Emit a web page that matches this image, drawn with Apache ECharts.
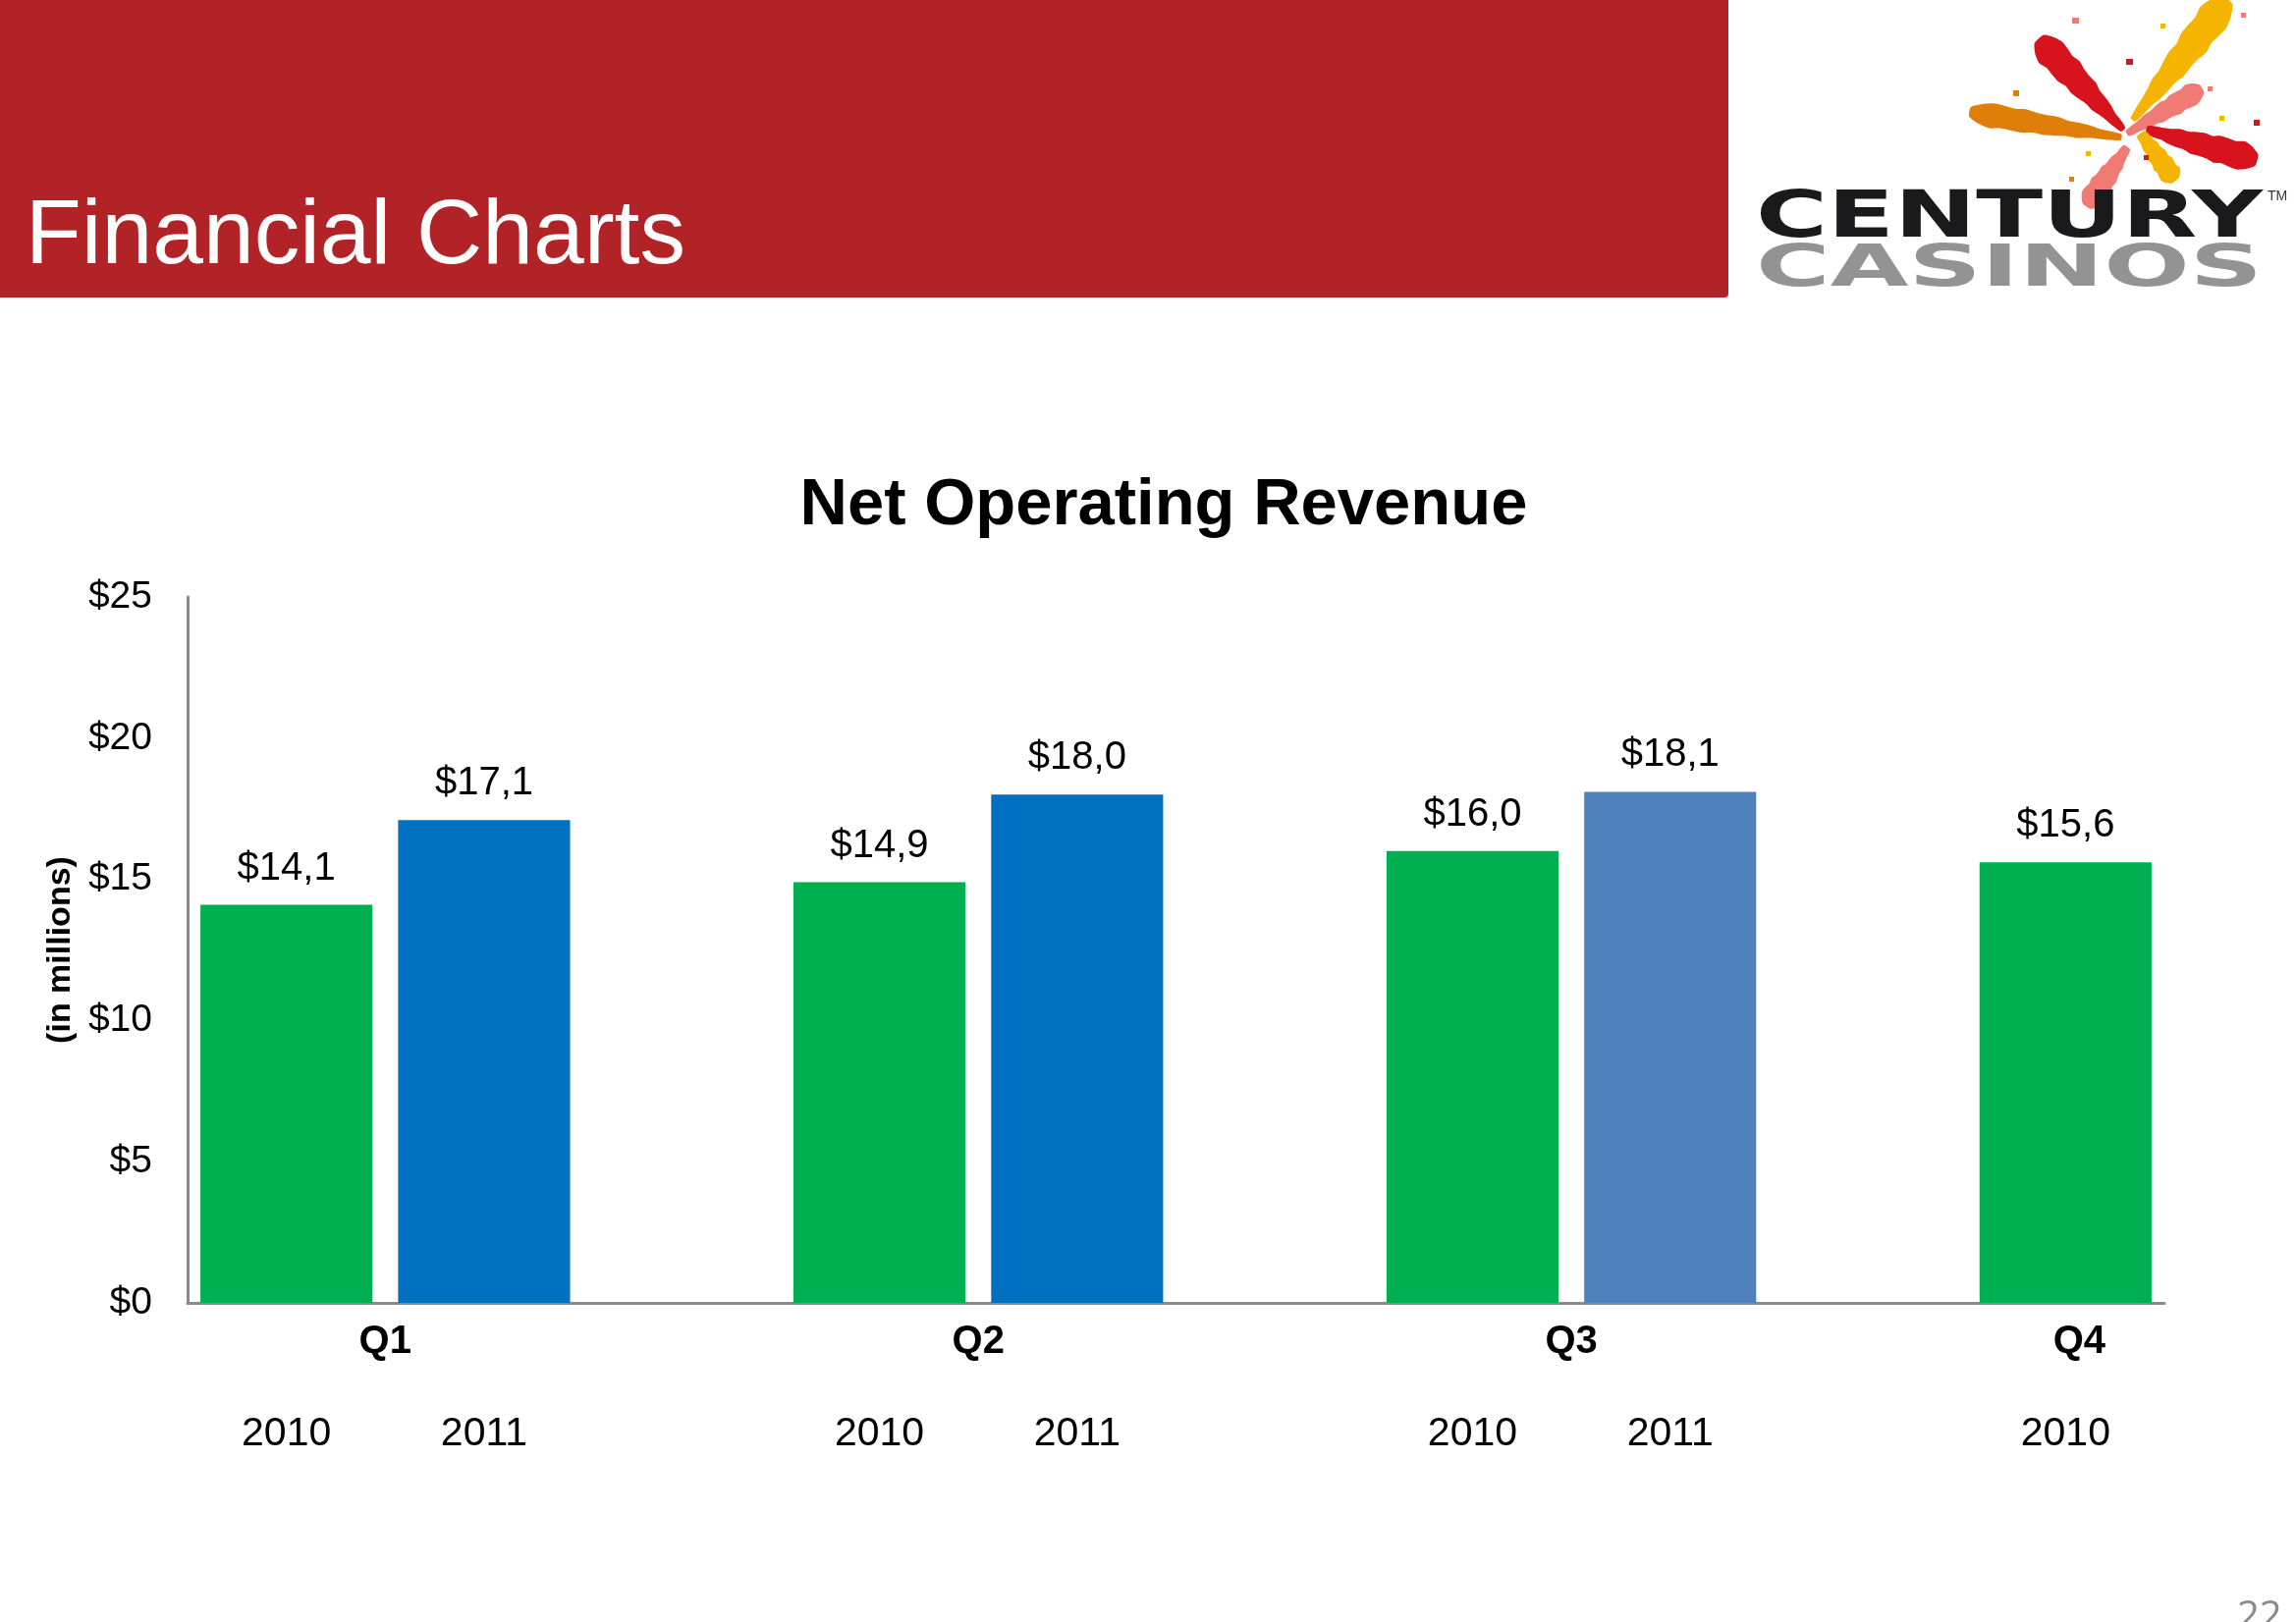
<!DOCTYPE html>
<html>
<head>
<meta charset="utf-8">
<script src="https://cdn.jsdelivr.net/npm/echarts@6/dist/echarts.min.js"></script>
<style>
html,body{margin:0;padding:0;background:#fff;}
#chart{width:2338px;height:1652px;}
</style>
</head>
<body>
<div id="chart"></div>
<script>
// ---- data ----
var quarters = ['Q1', 'Q2', 'Q3', 'Q4'];
var years = ['2010', '2011'];
var rev2010 = [14.1, 14.9, 16.0, 15.6];
var rev2011 = [17.1, 18.0, 18.1, null];
var yTicks = [0, 5, 10, 15, 20, 25];

// ---- styles ----
var color2010 = ['#00B050', '#00B050', '#00B050', '#00B050'];
var color2011 = ['#0070C0', '#0070C0', '#4F81BD', '#0070C0'];
var FONT = "'Liberation Sans', Arial, sans-serif";

// build category slots (bar, bar, gap, ...)
var slotLabels = [], slotData = [], qSlots = [];
quarters.forEach(function (q, i) {
  var s = [];
  s.push(slotLabels.length);
  slotLabels.push(years[0]);
  slotData.push({ value: rev2010[i], itemStyle: { color: color2010[i] } });
  if (rev2011[i] != null) {
    s.push(slotLabels.length);
    slotLabels.push(years[1]);
    slotData.push({ value: rev2011[i], itemStyle: { color: color2011[i] } });
  }
  qSlots.push(s);
  if (i < quarters.length - 1) {
    slotLabels.push('');
    slotData.push('-');
  }
});
// quarter labels on a half-slot point axis
var nPts = slotLabels.length * 2 + 1;
var qAxis = [];
for (var k = 0; k < nPts; k++) qAxis.push('');
qSlots.forEach(function (s, i) {
  var sum = 0;
  s.forEach(function (idx) { sum += 2 * idx + 1; });
  qAxis[Math.round(sum / s.length)] = quarters[i];
});

function fmt(v) { return '$' + v.toFixed(1).replace('.', ','); }

// ---- logo helpers (decoration) ----
var mctx = document.createElement('canvas').getContext('2d');
function textW(t, font) { mctx.font = font; return mctx.measureText(t).width; }
function stroke(ax, ay, bx, by, w0, w1, color) {
  var dx = bx - ax, dy = by - ay, L = Math.sqrt(dx * dx + dy * dy);
  var nx = -dy / L, ny = dx / L;
  var pts = [];
  var steps = 14;
  function wid(t, j) {
    var base = w0 + (w1 - w0) * Math.sin(Math.min(t / 0.85, 1) * Math.PI / 2);
    if (t > 0.85) base *= Math.sqrt(Math.max(0, 1 - Math.pow((t - 0.85) / 0.15, 2))) * 0.6 + 0.4;
    return base / 2 * (1 + 0.08 * Math.sin(j * 2.3));
  }
  for (var i = 0; i <= steps; i++) {
    var t = i / steps, w = wid(t, i);
    pts.push([ax + dx * t + nx * w, ay + dy * t + ny * w]);
  }
  for (var j = steps; j >= 0; j--) {
    var t2 = j / steps, w2 = wid(t2, j + 5);
    pts.push([ax + dx * t2 - nx * w2, ay + dy * t2 - ny * w2]);
  }
  return { type: 'polygon', shape: { points: pts, smooth: 0.2 }, style: { fill: color } };
}

var logoFont1 = "bold 66px 'DejaVu Sans', sans-serif";
var logoFont2 = "bold 58px 'DejaVu Sans', sans-serif";
var sx1 = 516 / textW('CENTURY', logoFont1);
var sx2 = 516 / textW('CASINOS', logoFont2);

var RED = '#D7141E', YEL = '#F4B400', ORA = '#E07E0A', PINK = '#EF7B74';
var logo = [
  stroke(2162, 132, 2076, 40, 6, 30, RED),
  stroke(2172, 122, 2268, 0, 6, 32, YEL),
  stroke(2160, 140, 2006, 114, 6, 24, ORA),
  stroke(2166, 136, 2242, 90, 6, 22, PINK),
  stroke(2186, 132, 2298, 163, 8, 28, RED),
  stroke(2180, 136, 2215, 184, 10, 22, YEL),
  stroke(2166, 150, 2125, 210, 8, 24, PINK),
  { type: 'rect', shape: { x: 2110, y: 18, width: 7, height: 6 }, style: { fill: PINK } },
  { type: 'rect', shape: { x: 2165, y: 60, width: 7, height: 6 }, style: { fill: RED } },
  { type: 'rect', shape: { x: 2050, y: 92, width: 6, height: 6 }, style: { fill: ORA } },
  { type: 'rect', shape: { x: 2282, y: 13, width: 5, height: 5 }, style: { fill: PINK } },
  { type: 'rect', shape: { x: 2200, y: 24, width: 5, height: 5 }, style: { fill: YEL } },
  { type: 'rect', shape: { x: 2248, y: 88, width: 5, height: 5 }, style: { fill: PINK } },
  { type: 'rect', shape: { x: 2260, y: 118, width: 5, height: 5 }, style: { fill: YEL } },
  { type: 'rect', shape: { x: 2295, y: 122, width: 6, height: 6 }, style: { fill: RED } },
  { type: 'rect', shape: { x: 2124, y: 154, width: 5, height: 5 }, style: { fill: YEL } },
  { type: 'rect', shape: { x: 2183, y: 158, width: 5, height: 5 }, style: { fill: RED } },
  { type: 'rect', shape: { x: 2107, y: 180, width: 5, height: 5 }, style: { fill: ORA } },
  { type: 'text', x: 1788, y: 224, scaleX: sx1, style: { text: 'CENTURY', font: logoFont1, fill: '#1a1a1d', textVerticalAlign: 'middle' } },
  { type: 'text', x: 1788, y: 276, scaleX: sx2, style: { text: 'CASINOS', font: logoFont2, fill: '#939393', textVerticalAlign: 'middle' } },
  { type: 'text', x: 2309, y: 200, style: { text: 'TM', font: "14px 'Liberation Sans', Arial", fill: '#333', textVerticalAlign: 'middle' } }
];

var chart = echarts.init(document.getElementById('chart'), null, { renderer: 'canvas' });
chart.setOption({
  backgroundColor: '#ffffff',
  animation: false,
  textStyle: { fontFamily: FONT },
  graphic: [
    { type: 'rect', shape: { x: 0, y: 0, width: 1760, height: 303, r: [0, 0, 4, 0] }, style: { fill: '#B22327' } },
    { type: 'text', x: 26, y: 242, style: { text: 'Financial Charts', font: "93px 'Liberation Sans', Arial, sans-serif", fill: '#ffffff', textVerticalAlign: 'middle' } },
    { type: 'text', x: 1185, y: 516, style: { text: 'Net Operating Revenue', font: "bold 67px 'Liberation Sans', Arial, sans-serif", fill: '#000000', textAlign: 'center', textVerticalAlign: 'middle' } },
    { type: 'text', x: 2278, y: 1628, style: { text: '22', font: "40px 'Open Sans', sans-serif", fill: '#8a8a8a' } }
  ].concat(logo),
  grid: { left: 191, right: 134, top: 608, bottom: 325, containLabel: false },
  xAxis: [
    {
      type: 'category',
      data: slotLabels,
      axisLine: { show: true, lineStyle: { color: '#8a8a8a', width: 3 } },
      axisTick: { show: false },
      axisLabel: { interval: 0, margin: 113, fontSize: 41, color: '#000', fontFamily: FONT },
      splitLine: { show: false }
    },
    {
      type: 'category',
      position: 'bottom',
      boundaryGap: false,
      data: qAxis,
      axisLine: { show: false },
      axisTick: { show: false },
      axisLabel: {
        interval: 0, margin: 20, fontSize: 40, fontWeight: 'bold', color: '#000', fontFamily: FONT,
        formatter: function (v) { return v === 'Q4' ? '{q4|' + v + '}' : v; },
        rich: { q4: { fontSize: 40, fontWeight: 'bold', fontFamily: FONT, color: '#000', padding: [0, 0, 0, 28] } }
      },
      splitLine: { show: false }
    }
  ],
  yAxis: {
    type: 'value',
    min: yTicks[0],
    max: yTicks[yTicks.length - 1],
    interval: yTicks[1] - yTicks[0],
    axisLine: { show: true, lineStyle: { color: '#8a8a8a', width: 3 } },
    axisTick: { show: false },
    splitLine: { show: false },
    axisLabel: { formatter: '${value}', fontSize: 39, color: '#000', margin: 36, fontFamily: FONT, padding: [16, 0, 0, 0] },
    name: '(in millions)',
    nameLocation: 'middle',
    nameRotate: 90,
    nameGap: 112,
    nameTextStyle: { fontSize: 34, fontWeight: 'bold', color: '#000', fontFamily: FONT }
  },
  series: [{
    type: 'bar',
    xAxisIndex: 0,
    data: slotData,
    barWidth: '87%',
    label: {
      show: true,
      position: 'top',
      distance: 17,
      fontSize: 40,
      color: '#000',
      fontFamily: FONT,
      formatter: function (p) { return fmt(p.value); }
    }
  }]
});
</script>
</body>
</html>
